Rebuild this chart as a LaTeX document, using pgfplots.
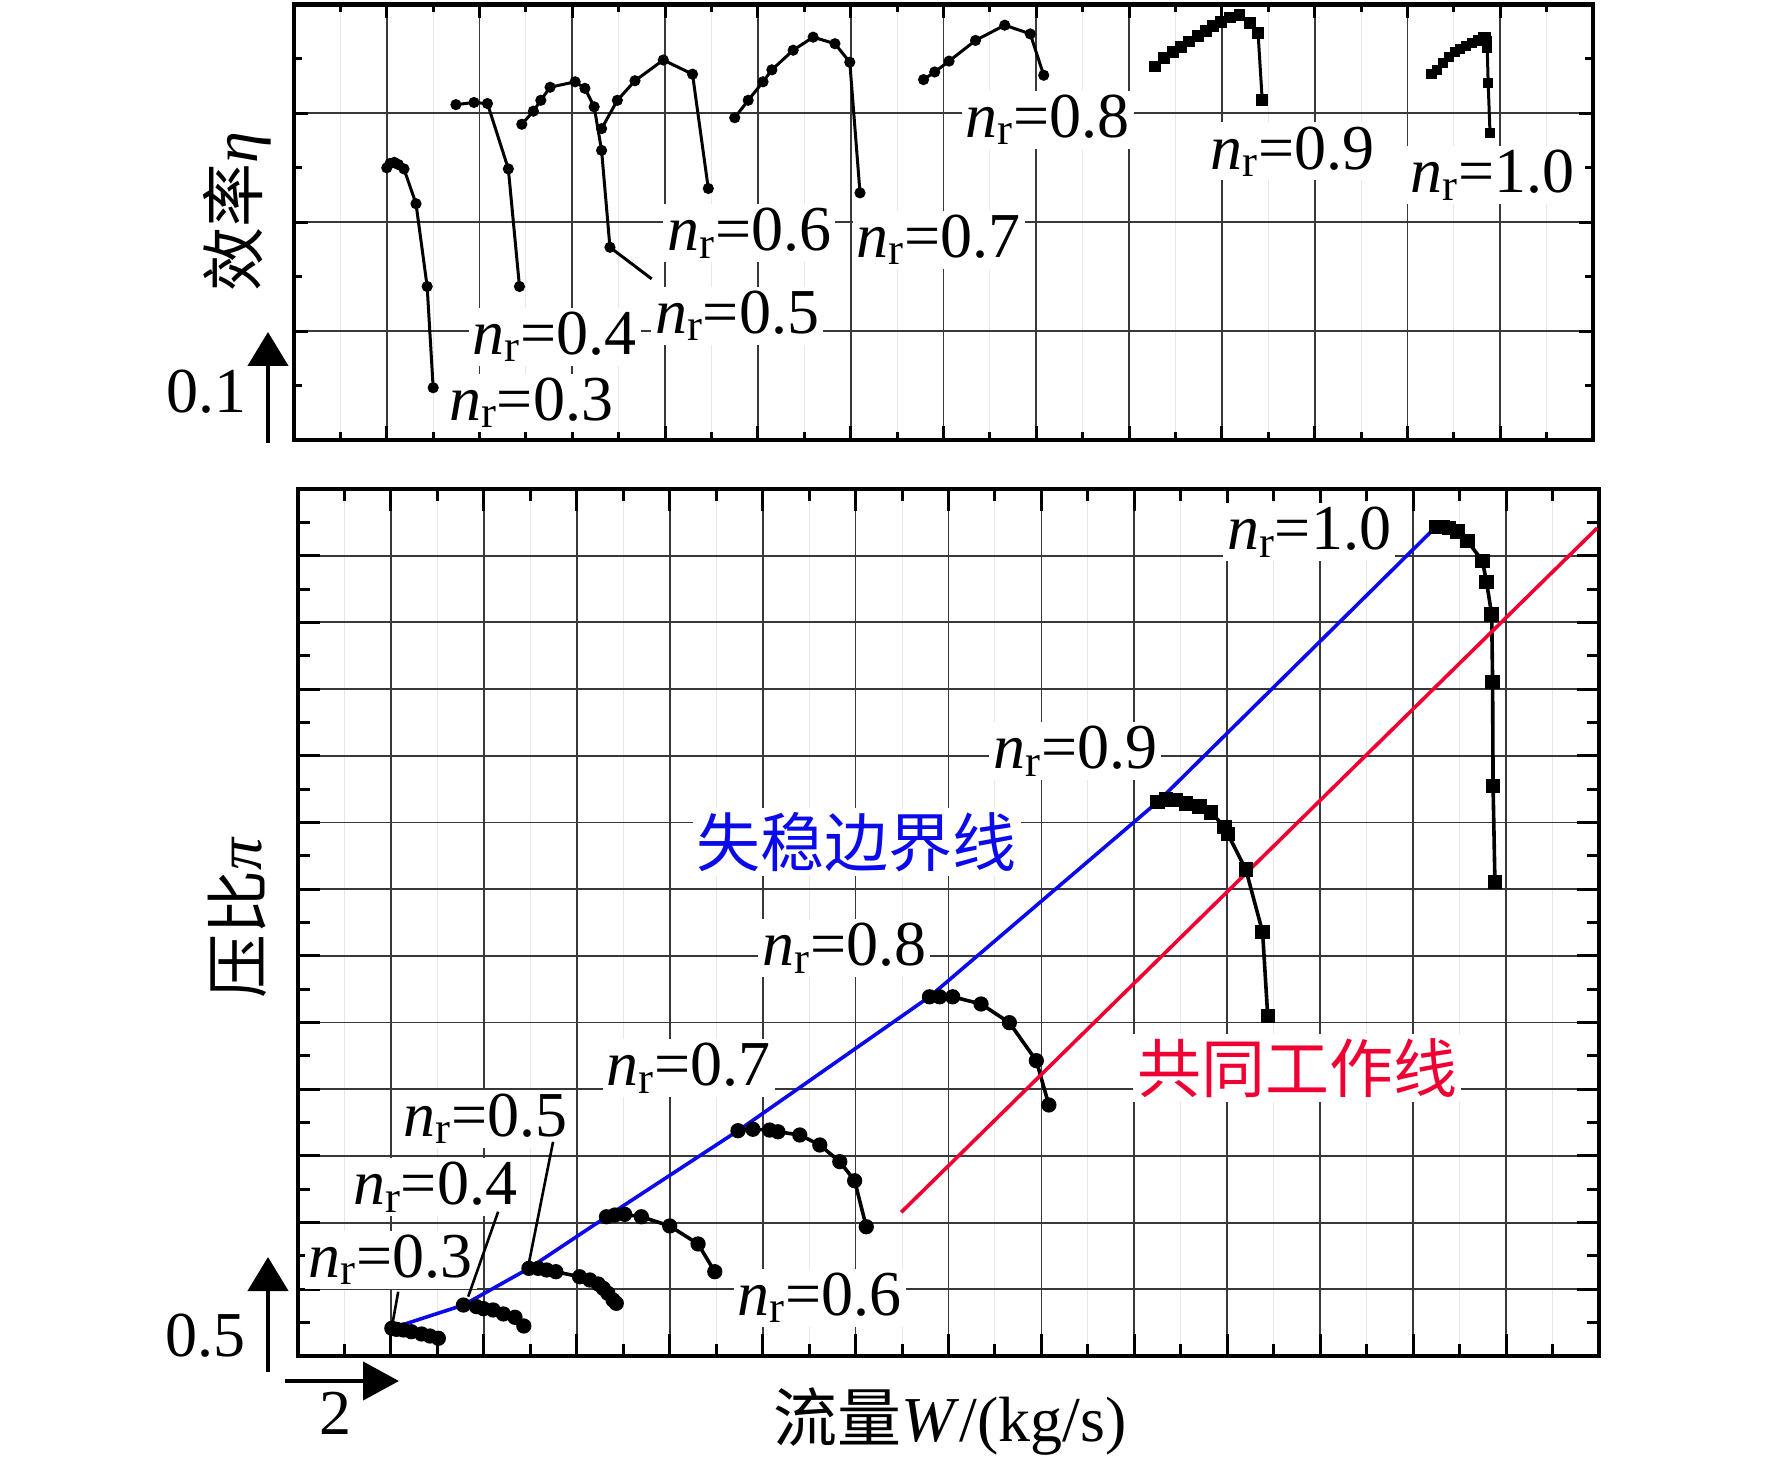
\documentclass[border=0pt]{standalone}
\usepackage{fontspec}
\usepackage{pgfplots}
\pgfplotsset{compat=1.18}
\usetikzlibrary{arrows.meta}
\setmainfont{Liberation Serif}
\newfontfamily\cjk{Noto Sans CJK SC}
\newcommand\nr[1]{\textit{n}\textsubscript{r}=#1}
\definecolor{wred}{RGB}{240,0,50}
\definecolor{wblue}{RGB}{10,10,235}
\begin{document}
\begin{tikzpicture}[
  every node/.style={font=\fontsize{32}{38}\selectfont},
  lab/.style={font=\fontsize{32}{38}\selectfont, fill=white, inner sep=2pt}]
\useasboundingbox (0,0) rectangle (886pt,-732.5pt);
\pgfplotsset{
  common/.style={
    scale only axis, anchor=north west,
    xmin=0, xmax=28, xtick distance=2, minor tick num=1,
    xticklabels={}, yticklabels={},
    xmajorgrids=true, ymajorgrids=true, xminorgrids=true,
    major grid style={black!78, line width=0.9pt},
    minor x grid style={black!9, line width=0.5pt},
    axis line style={line width=2.2pt},
    tick style={black, line width=1.5pt},
  },
}
% ---------------- top: efficiency ----------------
\begin{axis}[common,
  at={(147pt,-2.25pt)}, width=649.5pt, height=217.75pt,
  ymin=0.5, ymax=0.9, ytick distance=0.1,
  major tick length=7pt, minor tick length=4pt,
  every axis plot/.append style={black, line width=1.5pt, mark options={solid}},
]
\node[lab] at (5.11,0.534) {\nr{0.3}};
\node[lab] at (5.62,0.595) {\nr{0.4}};
\node[lab] at (9.55,0.614) {\nr{0.5}};
\node[lab] at (9.81,0.690) {\nr{0.6}};
\node[lab] at (13.90,0.684) {\nr{0.7}};
\node[lab] at (16.25,0.794) {\nr{0.8}};
\node[lab] at (21.53,0.765) {\nr{0.9}};
\node[lab] at (25.84,0.743) {\nr{1.0}};
\addplot[mark=*, mark size=2pt] coordinates {(2.00,0.750) (2.07,0.754) (2.16,0.755) (2.25,0.753) (2.37,0.749) (2.63,0.717) (2.87,0.641) (3.00,0.548)};
\addplot[mark=*, mark size=2pt] coordinates {(3.49,0.808) (3.88,0.810) (4.17,0.809) (4.62,0.749) (4.86,0.641)};
\addplot[mark=*, mark size=2pt] coordinates {(4.91,0.790) (5.16,0.802) (5.32,0.812) (5.52,0.824) (6.06,0.829) (6.27,0.823) (6.47,0.806) (6.63,0.766) (6.81,0.677)};
\addplot[no marks] coordinates {(6.81,0.677) (7.71,0.648)};
\addplot[mark=*, mark size=2pt] coordinates {(6.63,0.786) (6.97,0.812) (7.35,0.830) (7.96,0.849) (8.59,0.836) (8.93,0.731)};
\addplot[mark=*, mark size=2pt] coordinates {(9.50,0.796) (9.79,0.812) (10.11,0.829) (10.30,0.840) (10.76,0.858) (11.19,0.870) (11.66,0.864) (11.98,0.847) (12.20,0.727)};
\addplot[mark=*, mark size=2pt] coordinates {(13.57,0.831) (13.81,0.838) (14.12,0.848) (14.69,0.867) (15.32,0.881) (15.87,0.873) (16.16,0.835)};
\addplot[mark=square*, mark size=2.2pt] coordinates {(18.55,0.843) (18.76,0.851) (18.94,0.856) (19.12,0.861) (19.30,0.866) (19.48,0.871) (19.66,0.876) (19.81,0.880) (19.98,0.884) (20.17,0.888) (20.38,0.890) (20.60,0.883) (20.78,0.874) (20.87,0.812)};
\addplot[mark=square*, mark size=1.8pt] coordinates {(24.52,0.836) (24.63,0.840) (24.76,0.846) (24.90,0.852) (25.02,0.856) (25.13,0.859) (25.27,0.862) (25.40,0.865) (25.52,0.867) (25.63,0.870) (25.69,0.870) (25.72,0.866) (25.72,0.860) (25.74,0.828) (25.78,0.782)};
\end{axis}
% ---------------- bottom: pressure ratio ----------------
\begin{axis}[common,
  at={(149pt,-244.5pt)}, width=650.5pt, height=433.5pt,
  ymin=1, ymax=7.5, ytick distance=0.5,
  major tick length=11pt, minor tick length=6pt,
  every axis plot/.append style={black, line width=1.8pt, mark options={solid}},
]
\node[lab] at (21.76,7.177) {\nr{1.0}};
\node[lab] at (16.73,5.535) {\nr{0.9}};
\node[lab] at (11.76,4.058) {\nr{0.8}};
\node[lab] at (8.41,3.159) {\nr{0.7}};
\node[lab] at (4.04,2.777) {\nr{0.5}};
\node[lab] at (2.95,2.267) {\nr{0.4}};
\node[lab] at (2.00,1.720) {\nr{0.3}};
\node[lab] at (11.23,1.435) {\nr{0.6}};
\node[lab, text=wblue, font=\fontsize{32}{38}\selectfont\cjk] at (12.02,4.853) {失稳边界线};
\node[lab, text=wred, font=\fontsize{32}{38}\selectfont\cjk] at (21.51,3.159) {共同工作线};
% leader lines
\addplot[no marks, line width=1.3pt] coordinates {(2.157,1.482) (2.015,1.208)};
\addplot[no marks, line width=1.3pt] coordinates {(4.308,2.082) (3.662,1.445)};
\addplot[no marks, line width=1.3pt] coordinates {(5.490,2.606) (4.953,1.669)};
% speed lines
\addplot[mark=*, mark size=2.9pt] coordinates {(2.02,1.208) (2.12,1.200) (2.27,1.195) (2.44,1.182) (2.66,1.165) (2.84,1.150) (3.02,1.133)};
\addplot[mark=*, mark size=2.9pt] coordinates {(3.56,1.382) (3.84,1.370) (3.99,1.355) (4.20,1.345) (4.42,1.315) (4.67,1.290) (4.86,1.225)};
\addplot[mark=*, mark size=2.9pt] coordinates {(4.97,1.657) (5.17,1.657) (5.35,1.645) (5.55,1.632) (6.06,1.594) (6.28,1.570) (6.46,1.540) (6.57,1.507) (6.67,1.470) (6.78,1.420) (6.85,1.395)};
\addplot[mark=*, mark size=2.9pt] coordinates {(6.64,2.044) (6.82,2.057) (7.03,2.062) (7.39,2.044) (8.00,1.975) (8.61,1.840) (8.97,1.632)};
\addplot[mark=*, mark size=2.9pt] coordinates {(9.47,2.689) (9.79,2.700) (10.15,2.694) (10.33,2.681) (10.80,2.657) (11.23,2.582) (11.66,2.457) (11.98,2.314) (12.23,1.969)};
\addplot[mark=*, mark size=2.9pt] coordinates {(13.59,3.693) (13.81,3.693) (14.09,3.693) (14.70,3.639) (15.31,3.499) (15.89,3.214) (16.16,2.882)};
\addplot[mark=square*, mark size=2.7pt] coordinates {(18.50,5.154) (18.68,5.173) (18.90,5.168) (19.11,5.141) (19.40,5.120) (19.65,5.074) (19.94,4.967) (20.01,4.914) (20.40,4.646) (20.76,4.178) (20.87,3.548)};
\addplot[mark=square*, mark size=2.7pt] coordinates {(24.49,7.216) (24.63,7.216) (24.77,7.208) (24.95,7.181) (25.17,7.109) (25.49,6.962) (25.58,6.801) (25.69,6.560) (25.71,6.052) (25.72,5.275) (25.76,4.553)};
% surge line and operating line
\addplot[wblue, no marks, line width=1.8pt] coordinates {(2.02,1.208) (3.56,1.382) (4.97,1.657) (6.64,2.044) (9.47,2.689) (13.59,3.693) (18.50,5.154) (24.49,7.216)};
\addplot[wred, no marks, line width=1.8pt] coordinates {(12.98,2.077) (27.96,7.207)};
\end{axis}
% ---------------- outside texts and scale arrows ----------------
\node[rotate=90] at (118.5pt,-106pt) {{\cjk 效率}\textit{η}};
\node[rotate=90] at (118.5pt,-459pt) {{\cjk 压比}\textit{π}};
\node at (475pt,-711pt) {{\cjk 流量}\textit{W}/(kg/s)};
\node at (103pt,-196pt) {0.1};
\node at (102.5pt,-668pt) {0.5};
\node at (167.5pt,-706.5pt) {2};
\draw[line width=2.2pt, -{Triangle[length=17pt,width=20pt]}] (134pt,-221.5pt) -- (134pt,-166pt);
\draw[line width=2.2pt, -{Triangle[length=17pt,width=20pt]}] (134pt,-686pt) -- (134pt,-628.5pt);
\draw[line width=2.2pt, -{Triangle[length=18pt,width=19pt]}] (142.5pt,-690.5pt) -- (199.5pt,-690.5pt);
\end{tikzpicture}
\end{document}
